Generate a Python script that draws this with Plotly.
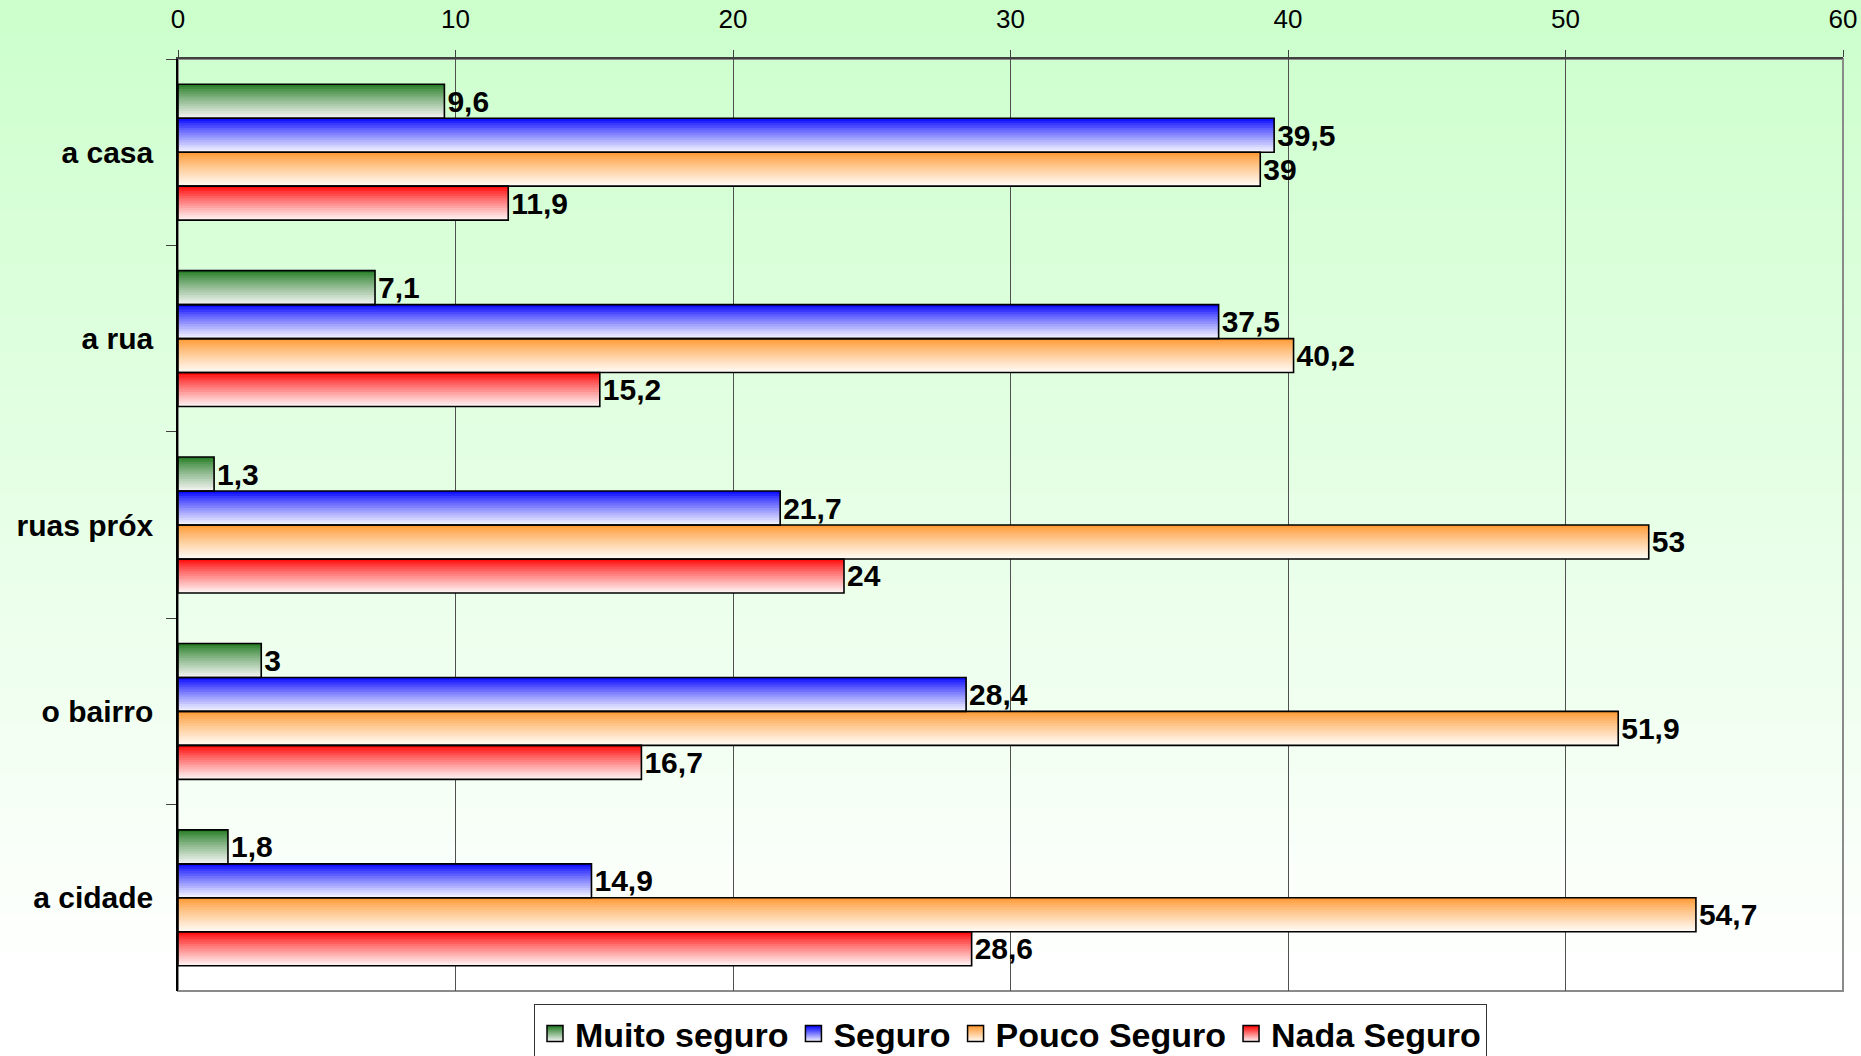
import plotly.graph_objects as go

# ---------------- data ----------------
categories = ["a casa", "a rua", "ruas próx", "o bairro", "a cidade"]
series_names = ["Muito seguro", "Seguro", "Pouco Seguro", "Nada Seguro"]
muito_seguro = [9.6, 7.1, 1.3, 3, 1.8]
seguro = [39.5, 37.5, 21.7, 28.4, 14.9]
pouco_seguro = [39, 40.2, 53, 51.9, 54.7]
nada_seguro = [11.9, 15.2, 24, 16.7, 28.6]
x_ticks = [0, 10, 20, 30, 40, 50, 60]

series_values = [muito_seguro, seguro, pouco_seguro, nada_seguro]

# ---------------- styles ----------------
top_colors = [(30, 120, 30), (0, 0, 255), (255, 150, 45), (255, 0, 0)]
bottom_colors = [(246, 246, 246), (248, 248, 255), (255, 252, 248), (255, 247, 247)]
FONT = "Liberation Sans, Arial, sans-serif"

W, H = 1861, 1056
ML, MR, MT, MB = 178, 18, 59, 65
PW, PH = W - ML - MR, H - MT - MB

N_SLICES = 14
GROUP = 0.729
BW = GROUP / 4
START = -GROUP / 2


def mix(c1, c2, t):
    return "rgb(%d,%d,%d)" % tuple(round(a + (b - a) * t) for a, b in zip(c1, c2))


def fmt(v):
    return f"{v:g}".replace(".", ",")


fig = go.Figure()

# gradient-filled bars: stacked slices (each slice runs to the bar's lower edge)
for i, vals in enumerate(series_values):
    for k in range(N_SLICES):
        t = ((k + 0.5) / N_SLICES) ** 0.85
        fig.add_trace(go.Bar(
            orientation="h", y=categories, x=vals,
            offset=START + i * BW + k * BW / N_SLICES,
            width=BW - k * BW / N_SLICES,
            marker=dict(color=mix(top_colors[i], bottom_colors[i], t), line=dict(width=0)),
            showlegend=False, hoverinfo="skip",
        ))

# outlines + value labels
for i, (name, vals) in enumerate(zip(series_names, series_values)):
    fig.add_trace(go.Bar(
        orientation="h", y=categories, x=vals, name=name,
        offset=START + i * BW, width=BW,
        marker=dict(color="rgba(0,0,0,0)", line=dict(color="black", width=1.6)),
        text=[fmt(v) for v in vals], textposition="outside",
        textfont=dict(family=FONT, size=30, color="black", weight="bold"),
        constraintext="none", cliponaxis=False, showlegend=False,
    ))

# legend entries
for i, name in enumerate(series_names):
    fig.add_trace(go.Scatter(
        x=[None], y=[None], mode="markers", name=name,
        marker=dict(symbol="square", size=16, color=mix(top_colors[i], top_colors[i], 0),
                    gradient=dict(type="vertical", color=mix(bottom_colors[i], bottom_colors[i], 0)),
                    line=dict(color="black", width=1.5)),
    ))

# background gradient (full figure)
shapes = []
NB = 60
for b in range(NB):
    y_top = b * H / NB
    yc = y_top + H / NB / 2
    t = min(1.0, yc / 975)
    c = mix((204, 255, 204), (255, 255, 255), t)
    shapes.append(dict(
        type="rect", xref="paper", yref="paper", layer="below",
        x0=-ML / PW, x1=1 + MR / PW,
        y0=-MB / PH - 0.01, y1=1 - (y_top - MT) / PH,
        fillcolor=c, line=dict(width=0),
    ))
# plot-area border (gray)
shapes.append(dict(
    type="rect", xref="paper", yref="paper", layer="below",
    x0=0, x1=1, y0=0, y1=1, fillcolor="rgba(0,0,0,0)",
    line=dict(color="#8a8a8a", width=2),
))

fig.update_layout(
    width=W, height=H,
    margin=dict(l=ML, r=MR, t=MT, b=MB, autoexpand=False),
    paper_bgcolor="white", plot_bgcolor="rgba(0,0,0,0)",
    barmode="overlay",
    font=dict(family=FONT, color="black"),
    shapes=shapes,
    xaxis=dict(
        side="top", range=[0, 60], tickvals=x_ticks,
        showgrid=True, gridcolor="#505050", gridwidth=1,
        zeroline=False,
        showline=True, linecolor="#404040", linewidth=1.5,
        ticks="outside", ticklen=7, tickcolor="#404040",
        tickfont=dict(family=FONT, size=26, color="black"),
        ticklabelstandoff=12,
        fixedrange=True, automargin=False,
    ),
    yaxis=dict(
        type="category", categoryorder="array", categoryarray=categories,
        range=[4.5, -0.5],
        showgrid=False, zeroline=False,
        showline=True, linecolor="black", linewidth=1.5,
        ticks="outside", tickson="boundaries", ticklen=10, tickcolor="#404040",
        tickfont=dict(family=FONT, size=30, color="black", weight="bold"),
        ticklabelstandoff=17,
        fixedrange=True, automargin=False,
    ),
    legend=dict(
        orientation="h", x=0.5, xanchor="center", y=-13 / PH, yanchor="top",
        bgcolor="white", bordercolor="#333333", borderwidth=1,
        font=dict(family=FONT, size=34, color="black", weight="bold"),
        itemsizing="trace",
    ),
    showlegend=True,
)

fig.write_html("out.html")
